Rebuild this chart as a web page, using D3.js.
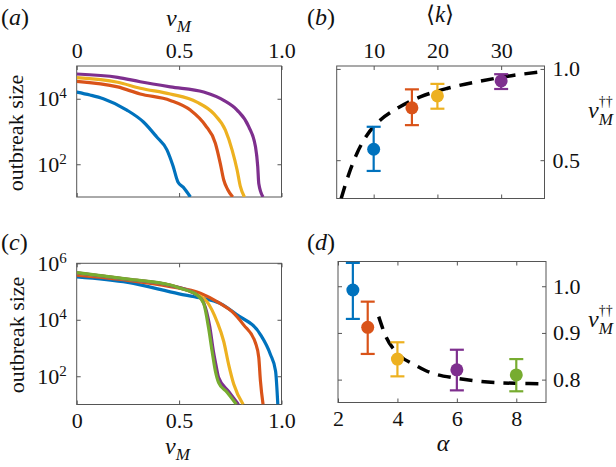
<!DOCTYPE html>
<html>
<head>
<meta charset="utf-8">
<script src="https://cdn.jsdelivr.net/npm/d3@7"></script>
<style>
  body { margin: 0; background: #fff; }
</style>
</head>
<body>
<div id="chart"></div>
<script>
// (a) outbreak size against v_M, one curve per mean degree
const aBlue   = [[0, 16000], [0.065, 13000], [0.13, 10000], [0.245, 4500], [0.326, 1950], [0.39, 690], [0.44, 280], [0.47, 90], [0.495, 28], [0.52, 20], [0.555, 10]];
const aOrange = [[0, 34000], [0.2, 23000], [0.31, 14000], [0.457, 8900], [0.555, 4500], [0.628, 1550], [0.677, 440], [0.701, 107], [0.718, 33], [0.737, 17], [0.762, 10]];
const aYellow = [[0, 44000], [0.2, 32000], [0.31, 21000], [0.457, 14000], [0.587, 7900], [0.669, 3500], [0.726, 1100], [0.759, 270], [0.783, 68], [0.799, 21], [0.819, 10]];
const aPurple = [[0, 57000], [0.2, 45000], [0.31, 33000], [0.457, 23000], [0.62, 16000], [0.718, 8900], [0.783, 4500], [0.84, 1400], [0.873, 340], [0.884, 85], [0.889, 26], [0.91, 10]];

// (b) threshold against <k>
const kValues = [10, 16, 20, 30];
const kMean   = [0.560, 0.787, 0.852, 0.934];
const kLow    = [0.441, 0.692, 0.782, 0.890];
const kHigh   = [0.683, 0.888, 0.918, 0.971];
const kTheory = [[4.9, 0.29], [6.05, 0.418], [7.37, 0.537], [8.95, 0.637], [11.05, 0.72], [13.7, 0.784], [17.4, 0.848], [21.6, 0.894], [26.3, 0.93], [31.6, 0.963], [36.6, 0.985]];

// (c) outbreak size against v_M, one curve per alpha
const cBlue   = [[0, 330000], [0.25, 210000], [0.5, 83000], [0.6, 60000], [0.7, 38000], [0.783, 15000], [0.897, 3000], [0.946, 590], [0.971, 155], [0.982, 10]];
const cOrange = [[0, 380000], [0.25, 250000], [0.457, 150000], [0.604, 87000], [0.7, 38000], [0.759, 19500], [0.815, 6600], [0.873, 1500], [0.889, 460], [0.897, 70], [0.91, 10]];
const cYellow = [[0, 450000], [0.25, 270000], [0.457, 165000], [0.587, 78000], [0.636, 44000], [0.685, 8700], [0.718, 1700], [0.742, 260], [0.767, 52], [0.813, 10]];
const cPurple = [[0, 460000], [0.25, 270000], [0.457, 165000], [0.587, 76000], [0.62, 40000], [0.65, 5500], [0.667, 800], [0.68, 250], [0.693, 90], [0.74, 30], [0.79, 10]];
const cGreen  = [[0, 470000], [0.25, 275000], [0.457, 170000], [0.506, 130000], [0.587, 76000], [0.62, 38000], [0.644, 5100], [0.661, 780], [0.677, 155], [0.693, 60], [0.734, 27], [0.78, 10]];

// (d) threshold against alpha
const alphaValues = [2.5, 3, 4, 6, 8];
const alphaMean   = [0.992, 0.912, 0.844, 0.821, 0.810];
const alphaLow    = [0.930, 0.855, 0.807, 0.777, 0.775];
const alphaHigh   = [1.050, 0.967, 0.880, 0.864, 0.844];
const alphaTheory = [[3.37, 0.935], [3.62, 0.891], [3.96, 0.859], [4.63, 0.830], [4.96, 0.819], [5.97, 0.803], [6.52, 0.798], [7.98, 0.792], [8.87, 0.791], [9, 0.790]];

const colors = ["#0072BD", "#D95319", "#EDB120", "#7E2F8E", "#77AC30"];
const serif = "Liberation Serif";
const fontSize = 22;

const svg = d3.select("#chart")
    .append("svg")
    .attr("width", 616)
    .attr("height", 467)
    .attr("font-family", serif);

// one boxed panel with inward ticks on all four sides
function makePanel(p) {
    const x = d3.scaleLinear().domain(p.xDomain).range([p.left, p.right]);
    const y = (p.log ? d3.scaleLog() : d3.scaleLinear()).domain(p.yDomain).range([p.bottom, p.top]);

    const xMain = p.xSide === "top" ? d3.axisTop(x) : d3.axisBottom(x);
    const xOther = p.xSide === "top" ? d3.axisBottom(x) : d3.axisTop(x);
    const yMain = p.ySide === "left" ? d3.axisLeft(y) : d3.axisRight(y);
    const yOther = p.ySide === "left" ? d3.axisRight(y) : d3.axisLeft(y);

    const style = g => {
        g.select(".domain").remove();
        g.attr("font-family", serif).attr("font-size", fontSize);
        g.selectAll("line").attr("stroke", "#555");
        g.selectAll("text").attr("fill", "#111");
    };

    svg.append("g")
        .attr("transform", `translate(0,${p.xSide === "top" ? p.top : p.bottom})`)
        .call(xMain.tickValues(p.xTicks).tickSize(-4).tickPadding(p.xPad).tickFormat(p.xFormat))
        .call(style);
    svg.append("g")
        .attr("transform", `translate(0,${p.xSide === "top" ? p.bottom : p.top})`)
        .call(xOther.tickValues(p.xTicks).tickSize(-4).tickFormat(""))
        .call(style);

    const yg = svg.append("g")
        .attr("transform", `translate(${p.ySide === "left" ? p.left : p.right},0)`)
        .call(yMain.tickValues(p.yTicks).tickSize(-4).tickPadding(p.yPad).tickFormat(p.log ? () => "" : p.yFormat))
        .call(style);
    if (p.log) {
        yg.selectAll(".tick text").each(function(d) {
            const t = d3.select(this).text("10");
            t.append("tspan").attr("dy", "-0.55em").attr("font-size", 15).text(Math.round(Math.log10(d)));
        });
    }
    svg.append("g")
        .attr("transform", `translate(${p.ySide === "left" ? p.right : p.left},0)`)
        .call(yOther.tickValues(p.yTicks).tickSize(-4).tickFormat(""))
        .call(style);

    svg.append("clipPath").attr("id", p.id)
        .append("rect")
        .attr("x", p.left).attr("y", p.top)
        .attr("width", p.right - p.left).attr("height", p.bottom - p.top);

    svg.append("rect")
        .attr("x", p.left).attr("y", p.top)
        .attr("width", p.right - p.left).attr("height", p.bottom - p.top)
        .attr("fill", "none")
        .attr("stroke", "#555")
        .attr("stroke-width", 1);

    const plot = svg.append("g").attr("clip-path", `url(#${p.id})`);
    return { x, y, plot };
}

const fmt = d => d === 0 ? "0" : d3.format(".1f")(d);

function drawCurves(panel, series) {
    const line = d3.line()
        .x(d => panel.x(d[0]))
        .y(d => panel.y(d[1]))
        .curve(d3.curveMonotoneX);
    series.forEach((s, i) => {
        panel.plot.append("path")
            .datum(s)
            .attr("fill", "none")
            .attr("stroke", colors[i])
            .attr("stroke-width", 3.2)
            .attr("stroke-linejoin", "round")
            .attr("d", line);
    });
}

function drawPoints(panel, xs, mean, low, high, theory) {
    const line = d3.line()
        .x(d => panel.x(d[0]))
        .y(d => panel.y(d[1]))
        .curve(d3.curveMonotoneX);
    panel.plot.append("path")
        .datum(theory)
        .attr("fill", "none")
        .attr("stroke", "#000")
        .attr("stroke-width", 3.5)
        .attr("stroke-dasharray", "13,9")
        .attr("d", line);

    xs.forEach((v, i) => {
        const cx = panel.x(v);
        const g = svg.append("g").attr("stroke", colors[i]).attr("stroke-width", 2.2);
        g.append("line").attr("x1", cx).attr("x2", cx).attr("y1", panel.y(low[i])).attr("y2", panel.y(high[i]));
        g.append("line").attr("x1", cx - 7).attr("x2", cx + 7).attr("y1", panel.y(low[i])).attr("y2", panel.y(low[i]));
        g.append("line").attr("x1", cx - 7).attr("x2", cx + 7).attr("y1", panel.y(high[i])).attr("y2", panel.y(high[i]));
        svg.append("circle")
            .attr("cx", cx)
            .attr("cy", panel.y(mean[i]))
            .attr("r", 6.5)
            .attr("fill", colors[i]);
    });
}

const pa = makePanel({
    id: "clipA", left: 76.7, right: 281.5, top: 66, bottom: 197,
    xDomain: [0, 1], yDomain: [10, 1e5], log: true,
    xSide: "top", ySide: "left", xTicks: [0, 0.5, 1], yTicks: [1e2, 1e4],
    xPad: 8, yPad: 10, xFormat: fmt
});
drawCurves(pa, [aBlue, aOrange, aYellow, aPurple]);

const pb = makePanel({
    id: "clipB", left: 336.7, right: 544.5, top: 66, bottom: 198.5,
    xDomain: [4.2, 36.8], yDomain: [0.29, 1.016],
    xSide: "top", ySide: "right", xTicks: [10, 20, 30], yTicks: [0.5, 1.0],
    xPad: 8, yPad: 8, xFormat: d3.format("d"), yFormat: d3.format(".1f")
});
drawPoints(pb, kValues, kMean, kLow, kHigh, kTheory);

const pc = makePanel({
    id: "clipC", left: 76.7, right: 281.5, top: 263.3, bottom: 404.5,
    xDomain: [0, 1], yDomain: [10, 1e6], log: true,
    xSide: "bottom", ySide: "left", xTicks: [0, 0.5, 1], yTicks: [1e2, 1e4, 1e6],
    xPad: 8, yPad: 10, xFormat: fmt
});
drawCurves(pc, [cBlue, cOrange, cYellow, cPurple, cGreen]);

const pd = makePanel({
    id: "clipD", left: 338, right: 546, top: 261.5, bottom: 402.5,
    xDomain: [2, 9], yDomain: [0.751, 1.053],
    xSide: "bottom", ySide: "right", xTicks: [2, 4, 6, 8], yTicks: [0.8, 0.9, 1.0],
    xPad: 8, yPad: 7, xFormat: d3.format("d"), yFormat: d3.format(".1f")
});
drawPoints(pd, alphaValues, alphaMean, alphaLow, alphaHigh, alphaTheory);

function label(x, y, size) {
    return svg.append("text")
        .attr("x", x).attr("y", y)
        .attr("font-size", size)
        .attr("font-family", serif)
        .attr("fill", "#111");
}

// panel letters
function letter(x, y, ch) {
    const t = label(x, y, 24);
    t.append("tspan").text("(");
    t.append("tspan").attr("font-style", "italic").text(ch);
    t.append("tspan").text(")");
}
letter(1, 25, "a");
letter(307, 25, "b");
letter(1, 250, "c");
letter(307, 250, "d");

// v_M labels, subscript as a tspan of the same text
function vM(x, y) {
    const t = label(x, y, 24).attr("font-style", "italic");
    t.append("tspan").text("v");
    t.append("tspan").attr("font-size", 17).attr("dy", 6).text("M");
}
vM(166, 26);
vM(165, 454);

// v_M with the double dagger stacked above the subscript
function vMdagger(x, y) {
    const t = label(x, y, 24).attr("font-style", "italic");
    t.append("tspan").text("v");
    t.append("tspan").attr("font-style", "normal").attr("font-size", 14).attr("dy", -12).text("††");
    t.append("tspan").attr("font-size", 17).attr("dx", -14).attr("dy", 19).text("M");
}
vMdagger(588, 118);
vMdagger(588, 327);

const kLabel = label(440, 22, 23).attr("text-anchor", "middle");
kLabel.append("tspan").text("⟨");
kLabel.append("tspan").attr("font-style", "italic").text("k");
kLabel.append("tspan").text("⟩");

label(443, 451, 24).attr("font-style", "italic").attr("text-anchor", "middle").text("α");

label(0, 0, 22)
    .attr("transform", "translate(23,133) rotate(-90)")
    .attr("text-anchor", "middle")
    .text("outbreak size");
label(0, 0, 22)
    .attr("transform", "translate(24,335) rotate(-90)")
    .attr("text-anchor", "middle")
    .text("outbreak size");
</script>
</body>
</html>
